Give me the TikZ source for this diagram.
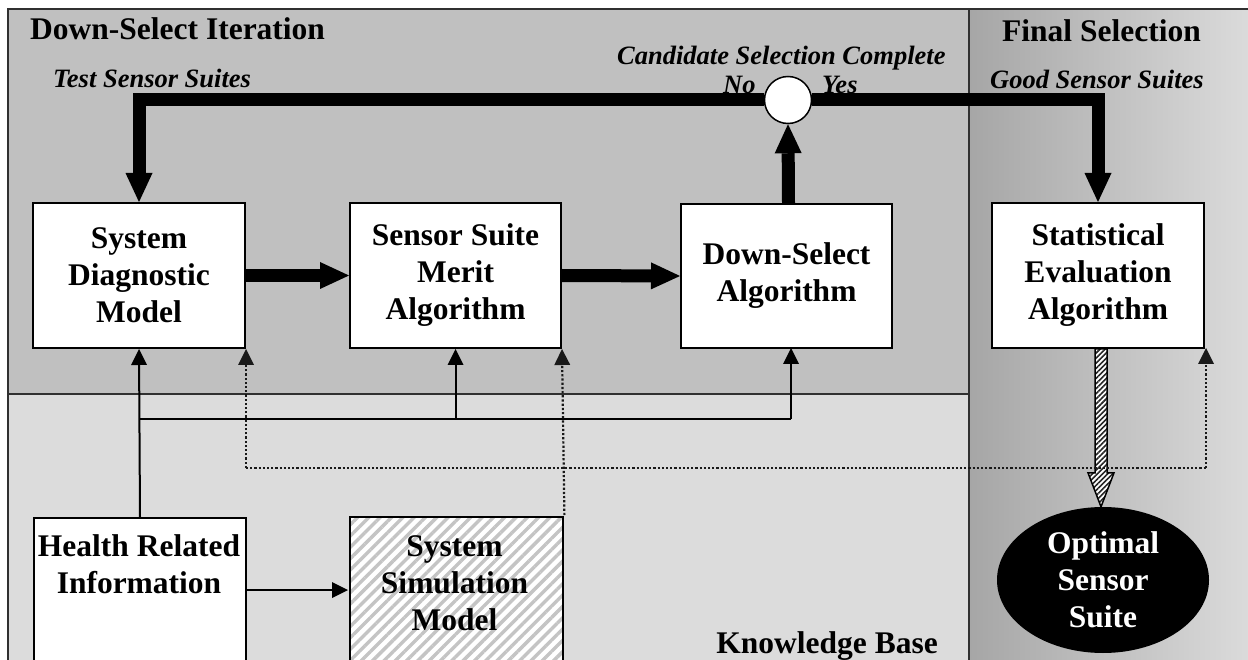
\documentclass[tikz,border=0pt]{standalone}
\usepackage{fontspec}
\setmainfont{Liberation Serif}
\usetikzlibrary{arrows.meta,patterns.meta,calc,shapes.geometric}
\definecolor{panelgray}{HTML}{C0C0C0}
\definecolor{basegray}{HTML}{DCDCDC}
\definecolor{finaldark}{HTML}{A6A6A6}
\definecolor{finallight}{HTML}{DDDDDD}
\definecolor{framegray}{HTML}{303030}
\definecolor{stripegray}{HTML}{C4C4C4}

\begin{document}
\begin{tikzpicture}[x=1pt,y=-1pt,
  boxfont/.style={font=\fontsize{31.5}{37}\selectfont\bfseries},
  tagfont/.style={font=\fontsize{26.5}{30}\selectfont\bfseries\itshape},
  blockbox/.style={draw, line width=2pt, fill=white, boxfont, align=center,
    inner sep=0pt, minimum width=212pt, minimum height=145pt},
  plainbox/.style={draw, line width=2pt, fill=white, inner sep=0pt,
    minimum width=212pt, minimum height=190pt, anchor=north west},
  flow/.style={line width=13pt, line join=miter,
    -{Triangle[width=27pt,length=29pt,line width=0pt]}},
  feed/.style={line width=2pt, -{Triangle[width=16pt,length=16pt,line width=0pt]}},
  dotfeed/.style={line width=2.2pt, dash pattern=on 2.2pt off 2pt, draw=black!90,
    -{Triangle[width=16pt,length=16pt,line width=0pt]}},
  dotline/.style={line width=2.2pt, dash pattern=on 2.2pt off 2pt, draw=black!90},
  hatcharrow/.style={draw=black, line width=1.5pt, line join=miter,
    preaction={fill=white},
    pattern={Lines[angle=45,distance=3.6pt,line width=1.6pt]}, pattern color=black!85},
  tag/.style={inner sep=0pt, anchor=base west},
]
\clip (0,0) rectangle (1248,660);
\fill[white] (0,0) rectangle (1248,660);

% panels
\filldraw[fill=basegray, draw=framegray, line width=2pt] (8,394) rectangle (969,700);
\filldraw[fill=panelgray, draw=framegray, line width=2pt] (8,9) rectangle (969,394);
\shade[left color=finaldark, right color=finallight] (969,9) rectangle (1260,700);
\draw[framegray, line width=2.5pt] (969,700) -- (969,9) -- (1260,9);

% blocks
\node[blockbox] (diag)  at (139,275.5)   {System\\Diagnostic\\Model};
\node[blockbox, minimum width=211pt] (merit) at (455.5,275.5) {Sensor Suite\\Merit\\Algorithm};
\node[blockbox, minimum width=211pt, minimum height=144pt] (dsa) at (786.5,276) {Down-Select\\Algorithm};
\node[blockbox] (stat)  at (1098,275.5)  {Statistical\\Evaluation\\Algorithm};

\node[plainbox] (hri) at (33,517) {};
\node[boxfont, align=center, inner sep=0pt, anchor=north] (hritext)
  at (139,534) {Health Related\\Information};
\node[plainbox, minimum width=213pt, preaction={fill=white},
  pattern={Lines[angle=45,distance=8pt,line width=3.4pt]}, pattern color=stripegray]
  (ssm) at (348,515) {};
\node[boxfont, align=center, inner sep=0pt, anchor=north] (ssmtext)
  at (454.5,535) {System\\Simulation\\Model};

% decision point
\node[circle, draw, fill=white, line width=1.5pt, minimum size=47pt, inner sep=0pt]
  (dec) at (788,100) {};

% main iteration loop
\draw[flow] (diag.east) -- (merit.west);
\draw[flow] (merit.east) -- (dsa.west);
\draw[flow] ($(dsa.north)+(2,0)$) -- ($(dec.south)$);
\draw[flow] (dec.west) -| (diag.north);
\draw[flow] (dec.east) -| (stat.north);

% final output
\node[ellipse, fill=black, text=white, boxfont, align=center, inner sep=0pt,
  minimum width=212pt, minimum height=146pt] (ell) at (1103,580)
  {Optimal\\Sensor\\Suite};
\coordinate (ha) at ($(stat.south)+(3,0)$);
\coordinate (hb) at (ha |- ell.north);
\draw[hatcharrow] ($(ha)+(-6,0)$) -- ($(hb)+(-6,-34)$) -- ($(hb)+(-13,-34)$)
  -- (hb) -- ($(hb)+(13,-34)$) -- ($(hb)+(6,-34)$) -- ($(ha)+(6,0)$) -- cycle;

% knowledge base feeds
\coordinate (bus) at (hri.north |- 0,419);
\draw[feed] (hri.north) -- (diag.south);
\draw[line width=2pt] (bus) -- (791,419);
\draw[feed] (merit.south |- bus) -- (merit.south);
\draw[feed] (791,419) -- (791,348);
\draw[feed] (hri.east |- 0,590) -- (ssm.west |- 0,590);

\coordinate (dl) at (diag.south east |- 0,468);
\coordinate (dr) at (1206,468);
\draw[dotline] (dl) -- (dr);
\draw[dotfeed] (dl) -- (diag.south east);
\draw[dotfeed] (dr) -- (1206,348);
\draw[dotfeed] (ssm.north east) -- (merit.south east);

% labels
\node[tag, boxfont] (dsi) at (30,40) {Down-Select Iteration};
\node[tag, tagfont] (tss) at (53,88) {Test Sensor Suites};
\node[tag, tagfont] (csc) at (617,65) {Candidate Selection Complete};
\node[tag, tagfont] (no)  at (723,94) {No};
\node[tag, tagfont] (yes) at (822,94) {Yes};
\node[tag, boxfont] (fs)  at (1002,42) {Final Selection};
\node[tag, tagfont] (gss) at (990,89) {Good Sensor Suites};
\node[boxfont, inner sep=0pt, anchor=base east] (kb) at (938,653) {Knowledge Base};
\end{tikzpicture}
\end{document}
